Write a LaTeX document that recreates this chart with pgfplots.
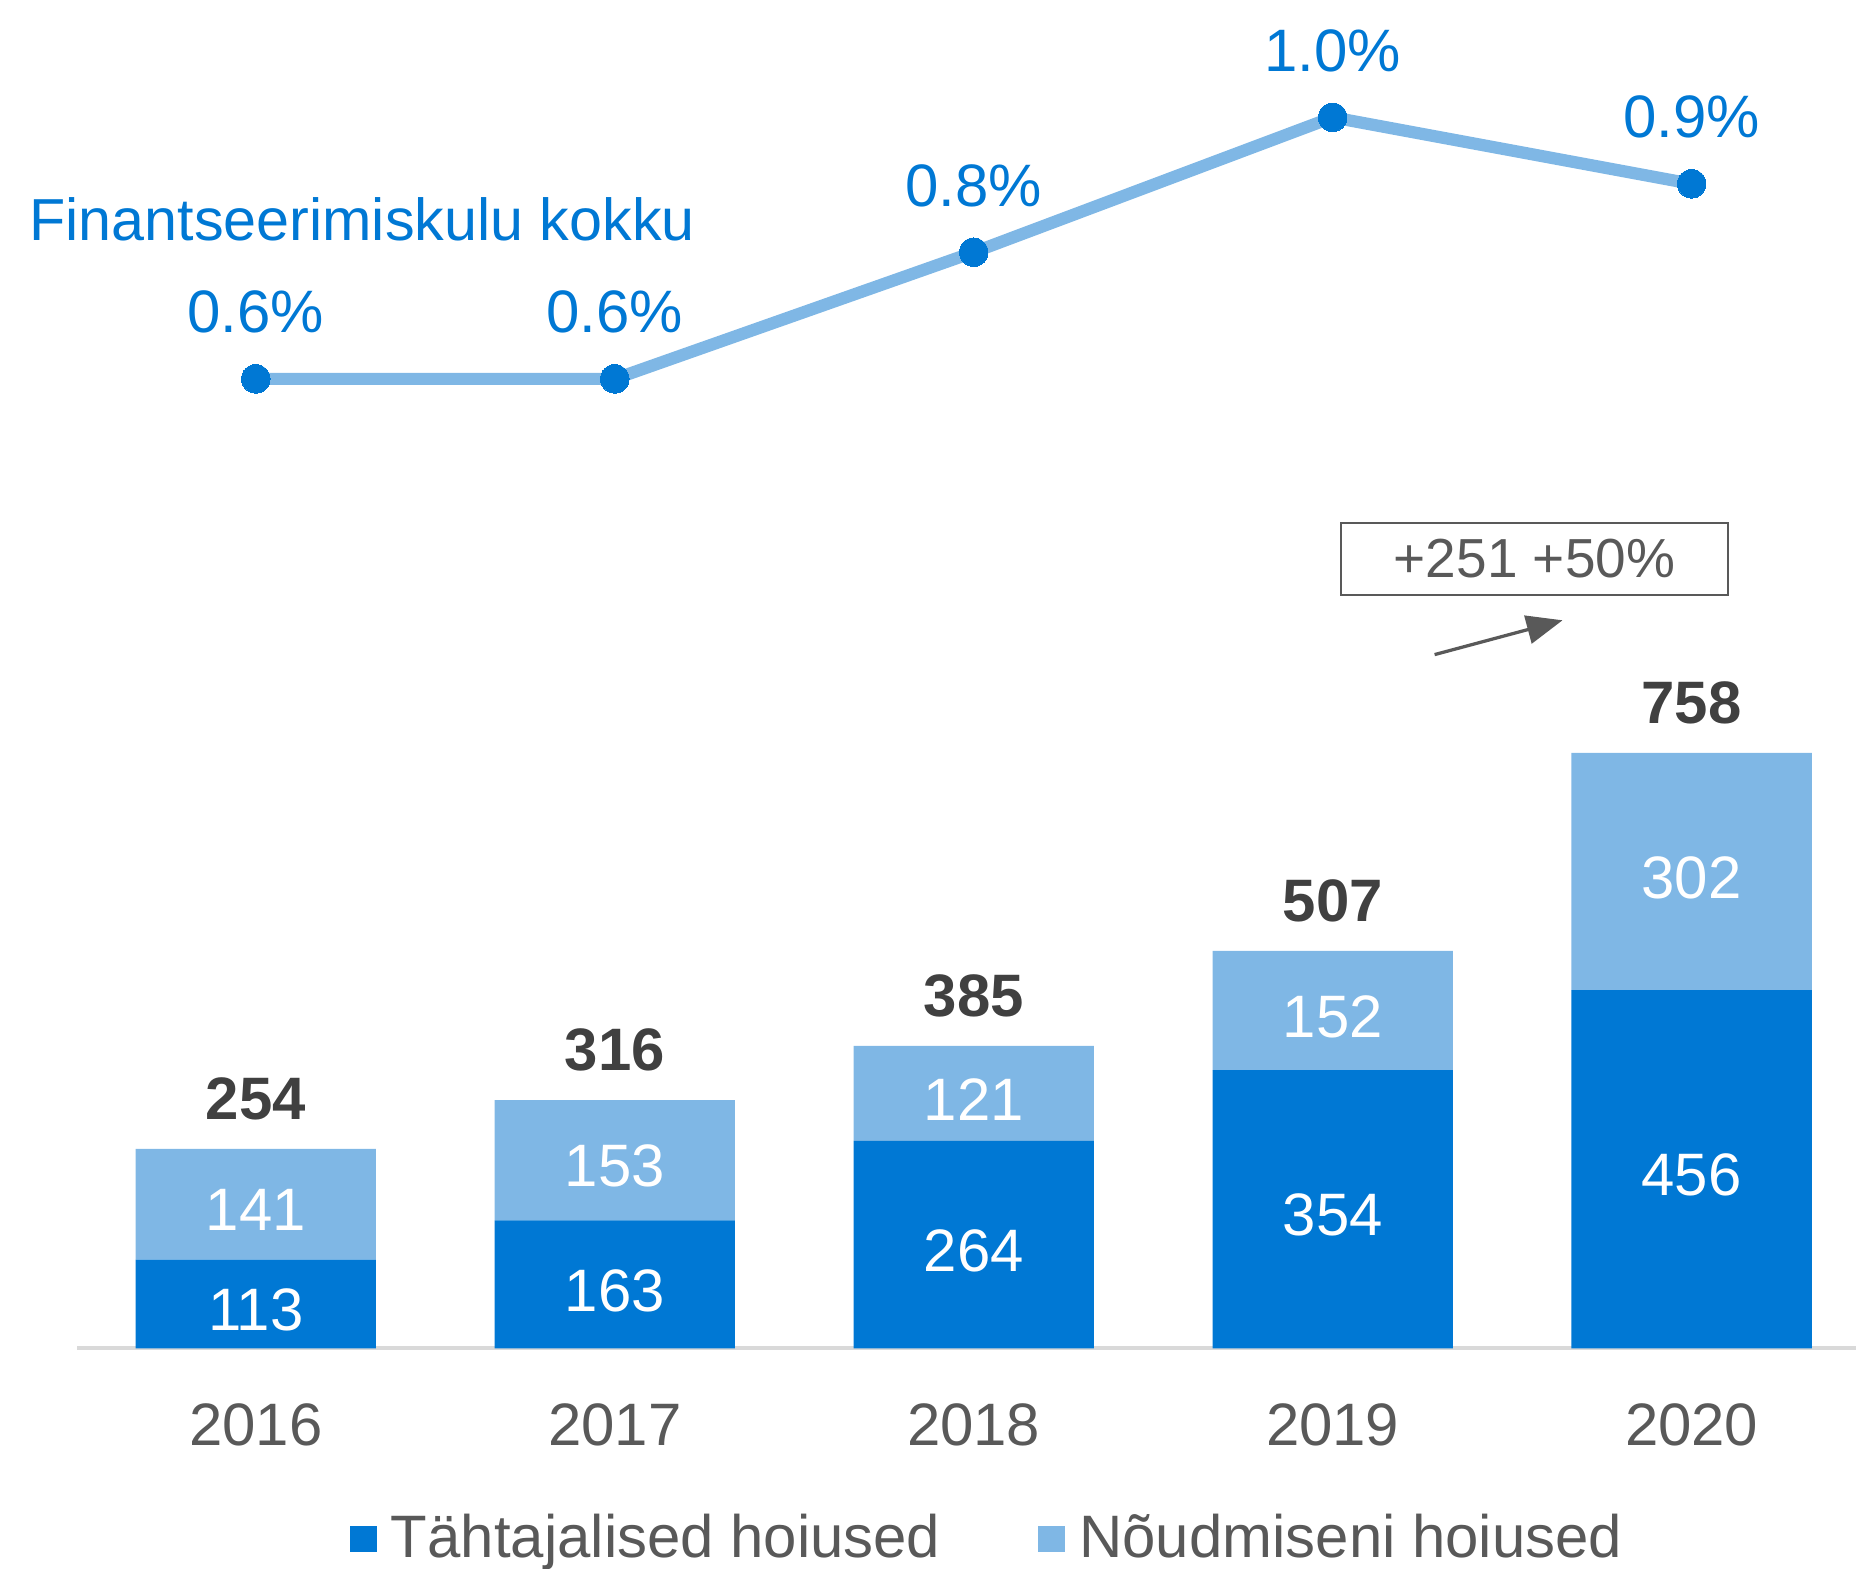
\documentclass[border=0pt]{standalone}
\usepackage{fontspec}
\setmainfont{Liberation Sans}
\usepackage{pgfplots}
\pgfplotsset{compat=1.18}
\usetikzlibrary{arrows.meta}

\definecolor{dblue}{RGB}{0,120,212}
\definecolor{lblue}{RGB}{127,183,229}
\definecolor{txtgray}{RGB}{89,89,89}
\definecolor{totgray}{RGB}{64,64,64}
\definecolor{axgray}{RGB}{217,217,217}

\newcommand\fs{\fontsize{14.7}{17}\selectfont}

\pgfplotsset{
  sqlegend/.style={legend image code/.code={\fill[##1] (0pt,-3.3pt) rectangle (6.6pt,3.3pt); \path (8.1pt,0pt);}},
  barframe/.style={
    scale only axis, width=436.57pt, height=154.23pt,
    xmin=-0.498, xmax=4.458, ymin=0, ymax=800, clip=false},
}

\begin{document}
\begin{tikzpicture}
\useasboundingbox (0,0) rectangle (455.46pt,-385.03pt);

% stacked bars
\begin{axis}[
  at={(18.90pt,-330.87pt)}, anchor=south west, barframe,
  ybar stacked, bar width=58.97pt,
  axis x line*=bottom, axis y line=none,
  axis line style={axgray, line width=0.9pt, -},
  xtick={0,...,4}, xticklabels={2016,2017,2018,2019,2020},
  major tick length=0pt,
  xticklabel style={font=\fs, text=txtgray, anchor=base, yshift=-23.8pt, inner sep=0pt},
  ytick=\empty,
  legend columns=2,
  legend cell align=left,
  legend style={at={(0.1529,-0.3034)}, anchor=west, draw=none, fill=none,
    inner sep=0pt, font=\fs, text=txtgray,
    /tikz/every even column/.append style={column sep=22pt}},
]
\addplot[fill=dblue, draw=none, sqlegend] coordinates {(0,113) (1,163) (2,264) (3,354) (4,456)};
\addlegendentry{Tähtajalised hoiused}
\addplot[fill=lblue, draw=none, sqlegend] coordinates {(0,141) (1,153) (2,121) (3,152) (4,302)};
\addlegendentry{Nõudmiseni hoiused}
\end{axis}

% value labels of the bars
\begin{axis}[
  at={(18.90pt,-330.87pt)}, anchor=south west, barframe, hide axis,
  nodes near coords, point meta=explicit symbolic,
]
\addplot[only marks, mark=none,
  every node near coord/.append style={font=\fs, text=white, anchor=center, yshift=-1.5pt}]
  coordinates {(0,56.5) [113] (1,81.5) [163] (2,132) [264] (3,177) [354] (4,228) [456]
               (0,183.5) [141] (1,239.5) [153] (2,324.5) [121] (3,430) [152] (4,607) [302]};
\addplot[only marks, mark=none,
  every node near coord/.append style={font=\fs\bfseries, text=totgray, anchor=base, yshift=7.2pt, inner sep=0pt}]
  coordinates {(0,254) [254] (1,316) [316] (2,385) [385] (3,506) [507] (4,758) [758]};
\end{axis}

% line of financing cost
\begin{axis}[
  at={(18.90pt,-108.52pt)}, anchor=south west,
  scale only axis, width=436.57pt, height=93.25pt,
  xmin=-0.498, xmax=4.458, ymin=0.5, ymax=1.1,
  hide axis, clip=false,
]
\addplot[lblue, line width=3.0pt, mark=*, mark size=3.5pt,
  mark options={dblue, fill=dblue, line width=0pt},
  nodes near coords, point meta=explicit symbolic,
  every node near coord/.append style={font=\fs, text=dblue, anchor=base, yshift=11.3pt, inner sep=0pt}]
  coordinates {(0,0.6) [0.6\%] (1,0.6) [0.6\%] (2,0.8) [0.8\%] (3,1.013) [1.0\%] (4,0.908) [0.9\%]};
\end{axis}

\node[anchor=base west, inner sep=0pt, font=\fontsize{14.55}{17}\selectfont, text=dblue] at (7.0pt,-58.9pt) {Finantseerimiskulu kokku};

\node[draw=txtgray, line width=0.6pt, minimum width=94.97pt, minimum height=17.67pt,
  font=\fontsize{13.5}{16}\selectfont, text=txtgray] at (376.57pt,-137.18pt) {+251 +50\%};
\draw[txtgray, line width=0.8pt, -{Triangle[length=8.8pt, width=7pt]}] (352.05pt,-160.64pt) -- (383.44pt,-152.22pt);
\end{tikzpicture}
\end{document}
